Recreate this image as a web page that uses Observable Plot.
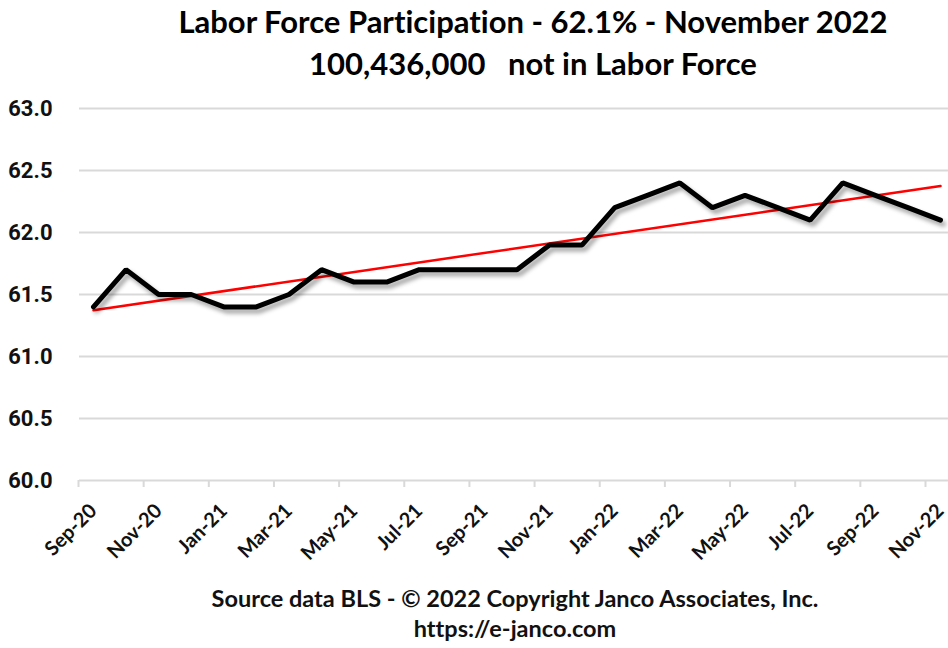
<!DOCTYPE html>
<html>
<head>
<meta charset="utf-8">
<script src="https://cdn.jsdelivr.net/npm/d3@7"></script>
<script src="https://cdn.jsdelivr.net/npm/@observablehq/plot@0.6"></script>
<style>
  html, body { margin: 0; padding: 0; background: #fff; }
  body { width: 948px; height: 648px; overflow: hidden; font-family: Lato, "Open Sans", sans-serif; font-variant-ligatures: none; }
  .title { height: 90px; box-sizing: border-box; padding-left: 118px; text-align: center; font-weight: 700; font-size: 31px; line-height: 42px; color: #000; }
  .caption { box-sizing: border-box; margin-top: -7px; padding-left: 82px; text-align: center; font-weight: 700; font-size: 23.5px; line-height: 30px; color: #111; }
  #chart svg { display: block; }
  #chart text { font-variant-ligatures: none; }
  #chart g[aria-label="line"] path { filter: drop-shadow(3px 4px 2px rgba(0,0,0,0.35)); }
</style>
</head>
<body>
<div class="title">
  <div>Labor Force Participation - 62.1% - November 2022</div>
  <div>100,436,000&nbsp;&nbsp; not in Labor Force</div>
</div>
<div id="chart"></div>
<div class="caption">
  <div>Source data BLS - © 2022 Copyright Janco Associates, Inc.</div>
  <div>https://e-janco.com</div>
</div>
<script>
const months = ["Sep-20","Oct-20","Nov-20","Dec-20","Jan-21","Feb-21","Mar-21","Apr-21","May-21","Jun-21","Jul-21","Aug-21","Sep-21","Oct-21","Nov-21","Dec-21","Jan-22","Feb-22","Mar-22","Apr-22","May-22","Jun-22","Jul-22","Aug-22","Sep-22","Oct-22","Nov-22"];
const participation = [61.4,61.7,61.5,61.5,61.4,61.4,61.5,61.7,61.6,61.6,61.7,61.7,61.7,61.7,61.9,61.9,62.2,62.3,62.4,62.2,62.3,62.2,62.1,62.4,62.3,62.2,62.1];
const yTicks = [60.0,60.5,61.0,61.5,62.0,62.5,63.0];
const xTickIdx = [0,2,4,6,8,10,12,14,16,18,20,22,24,26];

const data = months.map((m, i) => ({i, month: m, value: participation[i]}));

const chart = Plot.plot({
  width: 948,
  height: 500,
  marginTop: 18,
  marginBottom: 110,
  marginLeft: 79,
  marginRight: 0,
  style: {fontFamily: "Lato, sans-serif", background: "#fff"},
  x: {type: "linear", domain: [0, 26], insetLeft: 14, insetRight: 8},
  y: {domain: [60, 63]},
  marks: [
    Plot.gridY(yTicks, {stroke: "#d9d9d9", strokeOpacity: 1, strokeWidth: 2}),
    Plot.axisY(yTicks, {tickSize: 0, tickPadding: 27, tickFormat: d3.format(".1f"), fontSize: 22, fontWeight: 700, fill: "#111", fontFamily: "'Liberation Sans Narrow', Roboto, sans-serif", label: null}),
    Plot.axisX(xTickIdx, {tickSize: 7, tickFormat: () => "", dx: -15, stroke: "#d9d9d9", strokeWidth: 2, label: null}),
    Plot.axisX(xTickIdx, {tickSize: 0, tickPadding: 27, tickRotate: -45, tickFormat: i => months[i], fontSize: 20, fontWeight: 700, fill: "#111", label: null}),
    Plot.linearRegressionY(data, {x: "i", y: "value", stroke: "#ff0000", strokeWidth: 2.5, ci: 0}),
    Plot.line(data, {x: "i", y: "value", stroke: "#000", strokeWidth: 5, strokeLinejoin: "miter"})
  ]
});
document.getElementById("chart").appendChild(chart);
</script>
</body>
</html>
